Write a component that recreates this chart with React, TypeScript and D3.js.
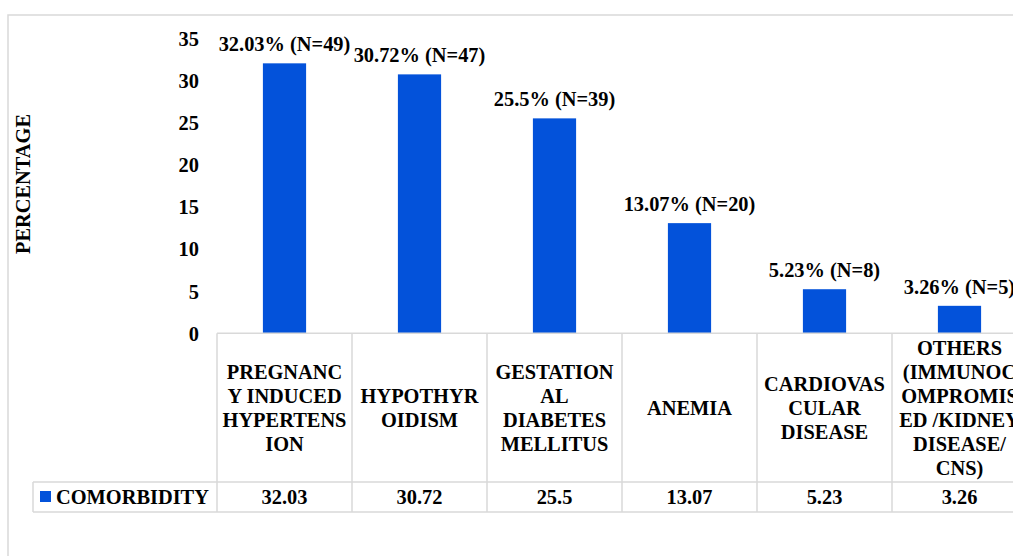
import React, { useEffect, useRef } from "react";
import * as d3 from "d3";

const categories = [
  "PREGNANCY INDUCED HYPERTENSION",
  "HYPOTHYROIDISM",
  "GESTATIONAL DIABETES MELLITUS",
  "ANEMIA",
  "CARDIOVASCULAR DISEASE",
  "OTHERS (IMMUNOCOMPROMISED /KIDNEY DISEASE/ CNS)",
];
const categoryLines = [
  ["PREGNANC", "Y INDUCED", "HYPERTENS", "ION"],
  ["HYPOTHYR", "OIDISM"],
  ["GESTATION", "AL", "DIABETES", "MELLITUS"],
  ["ANEMIA"],
  ["CARDIOVAS", "CULAR", "DISEASE"],
  ["OTHERS", "(IMMUNOC", "OMPROMIS", "ED /KIDNEY", "DISEASE/", "CNS)"],
];
const values = [32.03, 30.72, 25.5, 13.07, 5.23, 3.26];
const counts = [49, 47, 39, 20, 8, 5];
const valueLabels = ["32.03", "30.72", "25.5", "13.07", "5.23", "3.26"];
const yTicks = [0, 5, 10, 15, 20, 25, 30, 35];
const seriesName = "COMORBIDITY";
const yTitle = "PERCENTAGE";

const W = 1013;
const H = 556;
const BLUE = "#0352DA";
const GRID = "#d9d9d9";
const FS = 20.4;
const FAMILY = "Liberation Serif";

export default function App() {
  const ref = useRef<SVGSVGElement>(null);

  useEffect(() => {
    const svg = d3.select(ref.current);
    svg.selectAll("*").remove();

    const x = d3.scaleBand().domain(categories).range([217, 1027]).padding(0);
    const y = d3.scaleLinear().domain([0, 35]).range([333.3, 38.3]);
    const bw = x.bandwidth();
    const barW = bw * 0.32;
    const headTop = y(0);
    const headBot = 482;
    const rowBot = 512;
    const legendLeft = 33;
    const cx = (c: string) => (x(c) as number) + bw / 2;

    const txt = (sel: any) =>
      sel
        .attr("font-family", FAMILY)
        .style("font-family", `"${FAMILY}", monospace`)
        .attr("font-size", FS)
        .attr("font-weight", 700)
        .attr("fill", "#000");

    svg.append("rect").attr("x", 8).attr("y", 15).attr("width", 1100).attr("height", 700)
      .attr("fill", "#fff").attr("stroke", GRID).attr("stroke-width", 1.5);

    svg.append("text").call(txt).attr("transform", "translate(30,184) rotate(-90)")
      .attr("text-anchor", "middle").text(yTitle);

    svg.selectAll(".tick").data(yTicks).join("text").call(txt)
      .attr("x", 199).attr("y", (d) => y(d)).attr("dy", "0.36em").attr("text-anchor", "end")
      .text((d) => String(d));

    svg.selectAll(".bar").data(categories).join("rect")
      .attr("x", (c) => cx(c) - barW / 2)
      .attr("y", (_c, i) => y(values[i]))
      .attr("width", barW)
      .attr("height", (_c, i) => y(0) - y(values[i]))
      .attr("fill", BLUE);

    svg.selectAll(".lbl").data(categories).join("text").call(txt)
      .attr("x", (c) => cx(c)).attr("y", (_c, i) => y(values[i]) - 12)
      .attr("text-anchor", "middle")
      .text((_c, i) => `${valueLabels[i]}% (N=${counts[i]})`);

    const g = svg.append("g").attr("stroke", GRID).attr("stroke-width", 1.5);
    g.append("line").attr("x1", 217).attr("x2", 1100).attr("y1", headTop).attr("y2", headTop);
    g.append("line").attr("x1", legendLeft).attr("x2", 1100).attr("y1", headBot).attr("y2", headBot);
    g.append("line").attr("x1", legendLeft).attr("x2", 1100).attr("y1", rowBot).attr("y2", rowBot);
    g.append("line").attr("x1", legendLeft).attr("x2", legendLeft).attr("y1", headBot).attr("y2", rowBot);
    g.selectAll(".v").data([...categories.map((c) => x(c) as number), 1027]).join("line")
      .attr("x1", (d) => d).attr("x2", (d) => d).attr("y1", headTop).attr("y2", rowBot);

    const lh = 24;
    const mid = (headTop + headBot) / 2;
    categories.forEach((c, i) => {
      const lines = categoryLines[i];
      const start = mid - ((lines.length - 1) * lh) / 2;
      svg.append("g").selectAll("text").data(lines).join("text").call(txt)
        .attr("x", cx(c)).attr("y", (_l, j) => start + j * lh).attr("dy", "0.35em")
        .attr("text-anchor", "middle").text((l) => l);
    });

    svg.append("rect").attr("x", 40).attr("y", 491).attr("width", 11).attr("height", 11).attr("fill", BLUE);
    svg.append("text").call(txt).attr("x", 56).attr("y", (headBot + rowBot) / 2).attr("dy", "0.35em").text(seriesName);
    svg.selectAll(".val").data(categories).join("text").call(txt)
      .attr("x", (c) => cx(c)).attr("y", (headBot + rowBot) / 2).attr("dy", "0.35em")
      .attr("text-anchor", "middle").text((_c, i) => valueLabels[i]);
  }, []);

  return (
    <svg ref={ref} width={W} height={H} style={{ position: "absolute", left: 0, top: 0, background: "#fff" }} />
  );
}
